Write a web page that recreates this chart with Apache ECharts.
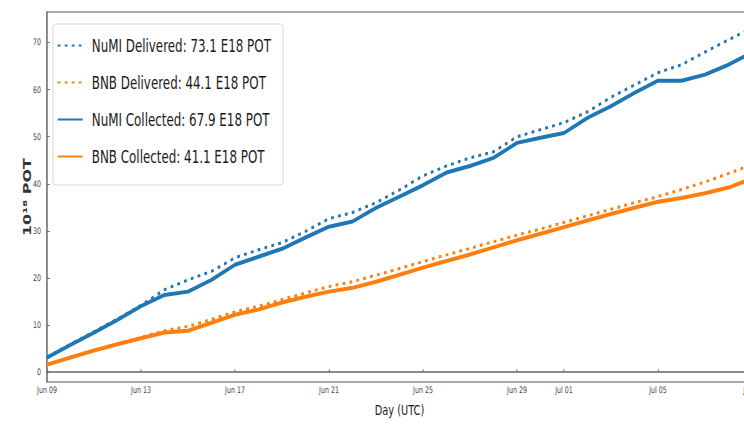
<!DOCTYPE html>
<html>
<head>
<meta charset="utf-8">
<script src="https://cdn.jsdelivr.net/npm/echarts@6/dist/echarts.min.js"></script>
<style>
  html, body { margin: 0; padding: 0; background: #fff; overflow: hidden; width: 744px; height: 426px; }
  /* the figure is drawn wide and narrowed horizontally, giving condensed lettering */
  #chart { width: 1120px; height: 426px; transform: scaleX(0.7); transform-origin: 0 0; }
</style>
</head>
<body>
<div id="chart"></div>
<script>
// Daily cumulative protons on target (units of 1e18), Jun 09 – Jul 09
const days = [
  'Jun 09','Jun 10','Jun 11','Jun 12','Jun 13','Jun 14','Jun 15','Jun 16','Jun 17','Jun 18',
  'Jun 19','Jun 20','Jun 21','Jun 22','Jun 23','Jun 24','Jun 25','Jun 26','Jun 27','Jun 28',
  'Jun 29','Jun 30','Jul 01','Jul 02','Jul 03','Jul 04','Jul 05','Jul 06','Jul 07','Jul 08','Jul 09'
];
const tickDays = ['Jun 09','Jun 13','Jun 17','Jun 21','Jun 25','Jun 29','Jul 01','Jul 05','Jul 09'];
const yTicks = [0, 10, 20, 30, 40, 50, 60, 70];

const numiDelivered = [3.2, 5.9, 8.6, 11.3, 14.2, 17.5, 19.6, 21.4, 24.3, 26.0, 27.5, 29.9, 32.6, 33.9, 36.0, 38.7,
  41.7, 43.8, 45.5, 46.8, 50.0, 51.5, 53.0, 55.3, 58.4, 61.0, 63.6, 65.3, 68.0, 70.6, 73.1];
const bnbDelivered = [1.6, 3.1, 4.6, 6.0, 7.4, 8.8, 9.7, 11.2, 12.8, 14.0, 15.4, 16.8, 18.2, 19.2, 20.6, 22.0,
  23.5, 24.9, 26.3, 27.7, 29.1, 30.4, 31.8, 33.2, 34.6, 36.0, 37.3, 38.8, 40.4, 42.2, 44.1];
const numiCollected = [3.1, 5.8, 8.4, 11.1, 14.0, 16.4, 17.1, 19.6, 22.8, 24.5, 26.2, 28.6, 30.9, 32.0, 34.9, 37.3,
  39.7, 42.4, 43.8, 45.5, 48.7, 49.8, 50.8, 54.0, 56.5, 59.3, 61.9, 61.9, 63.2, 65.3, 67.9];
const bnbCollected = [1.6, 3.1, 4.6, 5.9, 7.2, 8.4, 8.8, 10.5, 12.2, 13.3, 14.8, 16.0, 17.1, 17.9, 19.2, 20.7,
  22.2, 23.6, 25.0, 26.5, 28.0, 29.4, 30.8, 32.2, 33.6, 34.9, 36.2, 37.0, 38.0, 39.2, 41.1];

const BLUE = '#1f77b4';
const ORANGE = '#ff7f0e';
const FONT = "'DejaVu Sans', sans-serif";
const SX = 0.7;                       // horizontal squeeze applied by CSS
const hx = v => v / SX;               // horizontal screen px -> drawing px

function label(name, arr) {
  return name + ': ' + arr[arr.length - 1].toFixed(1) + ' E18 POT';
}

const seriesDefs = [
  { name: label('NuMI Delivered', numiDelivered), data: numiDelivered, color: BLUE, type: [4, 6], width: 3 },
  { name: label('BNB Delivered', bnbDelivered), data: bnbDelivered, color: ORANGE, type: [4, 6], width: 3 },
  { name: label('NuMI Collected', numiCollected), data: numiCollected, color: BLUE, type: 'solid', width: 4 },
  { name: label('BNB Collected', bnbCollected), data: bnbCollected, color: ORANGE, type: 'solid', width: 4 }
];

const showTick = (i, v) => tickDays.indexOf(v) >= 0;

const chart = echarts.init(document.getElementById('chart'), null, { renderer: 'svg' });
const plotLeft = hx(47);
const plotRight = hx(752);
chart.setOption({
  backgroundColor: '#ffffff',
  animation: false,
  grid: {
    left: plotLeft, top: 12, right: 1120 - plotRight, bottom: 44,
    show: true, borderColor: '#555', borderWidth: 1.2, backgroundColor: 'transparent'
  },
  legend: {
    left: hx(53), top: 24, orient: 'vertical',
    padding: [13, hx(12), 20, hx(4)],
    itemWidth: hx(25), itemHeight: 20, itemGap: 20,
    itemStyle: { opacity: 0 },
    backgroundColor: 'rgba(255,255,255,0.85)',
    borderColor: '#d0d0d0', borderWidth: 1, borderRadius: 4,
    textStyle: { fontFamily: FONT, fontSize: 17, color: '#1a1a1a', padding: [0, 0, 0, 8] },
    data: seriesDefs.map(s => s.name)
  },
  xAxis: {
    type: 'category',
    data: days,
    boundaryGap: false,
    name: 'Day (UTC)',
    nameLocation: 'middle',
    nameGap: 21,
    nameMoveOverlap: false,
    nameTextStyle: { fontFamily: FONT, fontSize: 14, color: '#1a1a1a' },
    axisLine: { lineStyle: { color: '#666', width: 1.5 } },
    axisTick: { inside: true, length: 3, interval: showTick, lineStyle: { color: '#666' } },
    axisLabel: { interval: showTick, fontFamily: FONT, fontSize: 9, color: '#444', margin: 4 },
    splitLine: { show: false }
  },
  yAxis: {
    type: 'value',
    min: -2.1,
    max: 76.5,
    name: '10¹⁸ POT',
    nameLocation: 'middle',
    nameRotate: 90,
    nameGap: 21,
    nameMoveOverlap: false,
    nameTextStyle: { fontFamily: FONT, fontWeight: 'bold', fontSize: 16, color: '#333' },
    axisLine: { show: true, lineStyle: { color: '#666', width: 1.5 } },
    axisTick: { show: true, inside: true, length: hx(3), customValues: yTicks, lineStyle: { color: '#666' } },
    axisLabel: { customValues: yTicks, fontFamily: FONT, fontSize: 9, color: '#444', margin: hx(6) },
    splitLine: { show: false }
  },
  series: seriesDefs.map(s => ({
    name: s.name,
    type: 'line',
    data: s.data,
    symbol: 'none',
    showSymbol: false,
    color: s.color,
    lineStyle: { color: s.color, width: s.width, type: s.type, cap: 'butt' }
  }))
});
</script>
</body>
</html>
